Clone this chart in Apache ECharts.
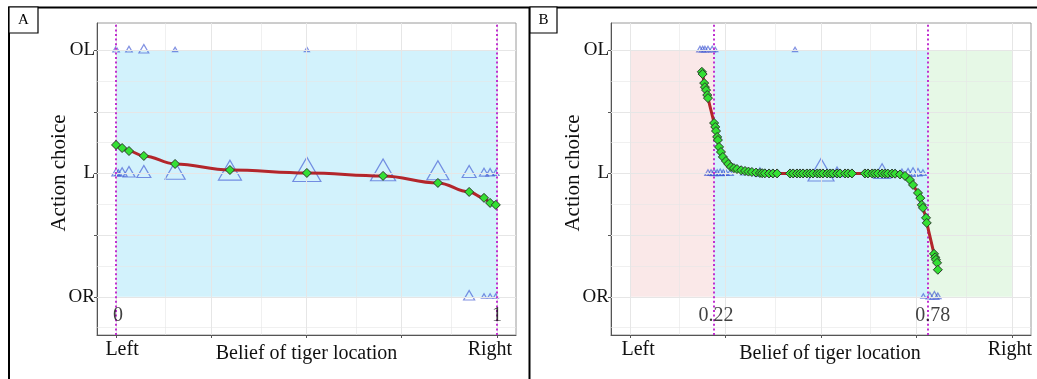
<!DOCTYPE html>
<html>
<head>
<meta charset="utf-8">
<script src="https://cdn.jsdelivr.net/npm/echarts@6/dist/echarts.min.js"></script>
<style>
  html, body { margin: 0; padding: 0; background: #fff; }
  #chart { width: 1037px; height: 379px; }
</style>
</head>
<body>
<div id="chart"></div>
<script>
var FONT = '"Liberation Serif", "Times New Roman", serif';

// ---- panel A: fitted curve (belief -> mean action) ----
var beliefA = [0, 0.016, 0.034, 0.073, 0.155, 0.299, 0.501, 0.701, 0.845, 0.927, 0.966, 0.982, 0.997];
var actionA = [1.231, 1.206, 1.182, 1.142, 1.077, 1.028, 1.004, 0.980, 0.923, 0.850, 0.802, 0.761, 0.745];

// panel A: observed choices (belief, action level, number of trials)
var obsBeliefA = [0, 0.034, 0.073, 0.155, 0.501,
    0, 0.006, 0.016, 0.034, 0.073, 0.155, 0.299, 0.501, 0.701, 0.845, 0.927, 0.966, 0.982, 0.997,
    0.927, 0.966, 0.982, 0.997];
var obsLevelA = [2, 2, 2, 2, 2,
    1, 1, 1, 1, 1, 1, 1, 1, 1, 1, 1, 1, 1, 1,
    0, 0, 0, 0];
var obsCountA = [2, 2, 6, 1, 1,
    4, 2, 6, 10, 14, 32, 43, 66, 52, 39, 14, 5, 4, 2,
    8, 1, 1, 1];

// ---- panel B ----
var beliefB = [0.188, 0.190, 0.194, 0.196, 0.199, 0.202, 0.204,
    0.220, 0.223, 0.225, 0.228, 0.230, 0.233, 0.238, 0.243, 0.251, 0.257, 0.264, 0.272, 0.280,
    0.291, 0.301, 0.310, 0.319, 0.330, 0.340, 0.346, 0.353, 0.364, 0.374, 0.385,
    0.419, 0.427, 0.437, 0.445, 0.453, 0.463, 0.471, 0.479, 0.490, 0.497, 0.505, 0.516,
    0.524, 0.531, 0.542, 0.550, 0.563, 0.571, 0.581,
    0.615, 0.623, 0.634, 0.641, 0.649, 0.660, 0.668, 0.675, 0.686,
    0.694, 0.707, 0.720, 0.733, 0.741, 0.754, 0.760, 0.764, 0.767, 0.775, 0.777,
    0.796, 0.799, 0.801, 0.804, 0.806];
var actionB = [1.824, 1.806, 1.733, 1.700, 1.676, 1.636, 1.611,
    1.409, 1.377, 1.344, 1.296, 1.271, 1.215, 1.174, 1.134, 1.101, 1.077, 1.053, 1.043, 1.036,
    1.026, 1.020, 1.015, 1.012, 1.007, 1.004, 1.002, 1.001, 1.000, 1.000, 1.000,
    1.000, 1.000, 1.000, 1.000, 1.000, 1.000, 1.000, 1.000, 1.000, 1.000, 1.000, 1.000,
    1.000, 1.000, 1.000, 1.000, 1.000, 1.000, 1.000,
    1.000, 1.000, 1.000, 1.000, 1.000, 1.000, 0.999, 0.999, 0.999,
    0.998, 0.992, 0.980, 0.947, 0.907, 0.842, 0.800, 0.745, 0.721, 0.640, 0.599,
    0.348, 0.320, 0.300, 0.275, 0.219];

var obsBeliefB = [0.183, 0.190, 0.196, 0.204, 0.215, 0.223, 0.432,
    0.204, 0.212, 0.220, 0.228, 0.236, 0.244, 0.251, 0.262, 0.296, 0.340, 0.500, 0.542, 0.660,
    0.694, 0.712, 0.728, 0.741, 0.754, 0.767,
    0.768, 0.785, 0.797, 0.806];
var obsLevelB = [2, 2, 2, 2, 2, 2, 2,
    1, 1, 1, 1, 1, 1, 1, 1, 1, 1, 1, 1, 1,
    1, 1, 1, 1, 1, 1,
    0, 0, 0, 0];
var obsCountB = [2, 2, 2, 2, 2, 1, 1,
    2, 2, 3, 2, 3, 2, 2, 2, 1, 6, 56, 8, 22,
    2, 3, 4, 6, 4, 2,
    1, 3, 5, 2];

// decision regions and thresholds
var regionsA = [[0, 1]];
var regionColorsA = ['rgba(30,190,240,0.2)'];
var regionsB = [[0, 0.22], [0.22, 0.78], [0.78, 1]];
var regionColorsB = ['rgba(230,140,140,0.2)', 'rgba(30,190,240,0.2)', 'rgba(130,220,130,0.2)'];
var thresholdsA = [0, 1];
var thresholdsB = [0.22, 0.78];
var thresholdTextA = ['0', '1'];
var thresholdTextXA = [0.005, 1.0];
var thresholdTextB = ['0.22', '0.78'];
var thresholdTextXB = [0.225, 0.793];
var thresholdTextY = -0.154;

// axis breaks
var actionLevels = [0, 1, 2];
var actionNames = ['OR', 'L', 'OL'];
var yMajor = [0, 0.5, 1, 1.5, 2];
var yMinor = [-0.25, 0.25, 0.75, 1.25, 1.75];
var xMajor = [0, 0.25, 0.5, 0.75, 1];
var xMinor = [0.125, 0.375, 0.625, 0.875];
var sideBreaks = [0, 1];
var sideNames = ['Left', 'Right'];

/**
 * Triangle item for a count (size scale ~ sqrt(n), like ggplot's area scale).
 */
function triangleItem(x, y, n) {
    var w = 2 + 3.2 * Math.sqrt(n);
    var h = w * 0.866;
    return { value: [x, y], symbolSize: [w, h], symbolOffset: [0, -h / 6] };
}

/**
 * Build all series of one panel.
 */
function panelSeries(i, p) {
    var grid = [];
    xMajor.forEach(function (v) { grid.push({ xAxis: v, lineStyle: { width: 1 } }); });
    xMinor.forEach(function (v) { grid.push({ xAxis: v, lineStyle: { width: 0.6 } }); });
    yMajor.forEach(function (v) { grid.push({ yAxis: v, lineStyle: { width: 1 } }); });
    yMinor.forEach(function (v) { grid.push({ yAxis: v, lineStyle: { width: 0.6 } }); });

    var areas = p.regions.map(function (r, k) {
        return [{ xAxis: r[0], yAxis: 0, itemStyle: { color: p.regionColors[k] } }, { xAxis: r[1], yAxis: 2 }];
    });

    var tri = p.obsX.map(function (x, k) { return triangleItem(x, p.obsY[k], p.obsN[k]); });
    var curve = p.beliefs.map(function (x, k) { return [x, p.actions[k]]; });
    var texts = p.textX.map(function (x, k) { return [x, thresholdTextY, p.text[k]]; });

    return [
        {
            type: 'scatter', xAxisIndex: i, yAxisIndex: i, data: [], z: 1, silent: true,
            markLine: { silent: true, symbol: 'none', label: { show: false }, animation: false,
                lineStyle: { color: '#e6e6e6', type: 'solid' }, data: grid }
        },
        {
            type: 'scatter', xAxisIndex: i, yAxisIndex: i, data: [], z: 2, silent: true,
            markArea: { silent: true, animation: false, data: areas }
        },
        {
            type: 'scatter', xAxisIndex: i, yAxisIndex: i, data: [], z: 3, silent: true,
            markLine: { silent: true, symbol: 'none', label: { show: false }, animation: false,
                lineStyle: { color: '#c030d0', width: 2, type: [2, 2.6] },
                data: p.thresholds.map(function (v) { return { xAxis: v }; }) }
        },
        {
            type: 'scatter', xAxisIndex: i, yAxisIndex: i, z: 4, symbol: 'triangle', data: tri,
            itemStyle: { color: 'rgba(0,0,0,0)', borderColor: 'rgba(60,85,210,0.8)', borderWidth: 1.2 }
        },
        {
            type: 'line', xAxisIndex: i, yAxisIndex: i, z: 5, data: curve,
            smooth: p.smooth, smoothMonotone: 'x',
            symbol: 'diamond', symbolSize: 9, showSymbol: true,
            lineStyle: { color: '#b3262b', width: 3 },
            itemStyle: { color: '#33e033', borderColor: '#2b3a2b', borderWidth: 1 }
        },
        {
            type: 'scatter', xAxisIndex: i, yAxisIndex: i, z: 6, symbolSize: 1, data: texts,
            itemStyle: { color: 'rgba(0,0,0,0)' },
            label: { show: true, position: 'inside', color: '#111', fontFamily: FONT, fontSize: 20,
                formatter: function (q) { return q.data[2]; } }
        }
    ];
}

function xAxisFor(i, shiftL, shiftR, namePad) {
    return {
        type: 'value', gridIndex: i, min: -0.05, max: 1.05,
        name: 'Belief of tiger location', nameLocation: 'middle', nameGap: 9, nameMoveOverlap: false,
        nameTextStyle: { color: '#111', fontFamily: FONT, fontSize: 20, padding: [0, 0, 0, namePad] },
        axisLine: { show: true, onZero: false, lineStyle: { color: '#555' } },
        axisTick: { show: true, length: 3, customValues: xMajor, lineStyle: { color: '#555' } },
        axisLabel: {
            customValues: sideBreaks, margin: 5, color: '#111', fontFamily: FONT, fontSize: 20,
            formatter: function (v) { return v === 0 ? '{l|' + sideNames[0] + '}' : '{r|' + sideNames[1] + '}'; },
            rich: {
                l: { fontFamily: FONT, fontSize: 20, color: '#111', padding: [0, 0, 0, shiftL] },
                r: { fontFamily: FONT, fontSize: 20, color: '#111', padding: [0, shiftR, 0, 0] }
            }
        },
        splitLine: { show: false }
    };
}

function yAxisFor(i) {
    return {
        type: 'value', gridIndex: i, min: -0.31, max: 2.22,
        name: 'Action choice', nameLocation: 'middle', nameRotate: 90, nameGap: 27, nameMoveOverlap: false,
        nameTextStyle: { color: '#111', fontFamily: FONT, fontSize: 21, padding: [0, 0, 0, 12] },
        axisLine: { show: true, onZero: false, lineStyle: { color: '#555' } },
        axisTick: { show: true, length: 3, customValues: yMajor, lineStyle: { color: '#555' } },
        axisLabel: {
            customValues: actionLevels, margin: 2, color: '#111', fontFamily: FONT, fontSize: 19,
            formatter: function (v) { return actionNames[actionLevels.indexOf(Math.round(v))]; }
        },
        splitLine: { show: false }
    };
}

var panelA = {
    beliefs: beliefA, actions: actionA, obsX: obsBeliefA, obsY: obsLevelA, obsN: obsCountA,
    regions: regionsA, regionColors: regionColorsA, thresholds: thresholdsA,
    text: thresholdTextA, textX: thresholdTextXA, smooth: 0.4
};
var panelB = {
    beliefs: beliefB, actions: actionB, obsX: obsBeliefB, obsY: obsLevelB, obsN: obsCountB,
    regions: regionsB, regionColors: regionColorsB, thresholds: thresholdsB,
    text: thresholdTextB, textX: thresholdTextXB, smooth: false
};

function labelBox(x, w, txt) {
    return {
        type: 'group', children: [
            { type: 'rect', shape: { x: x, y: 7, width: w, height: 26 },
              style: { fill: '#fff', stroke: '#000', lineWidth: 1.2 } },
            { type: 'text', x: x + w / 2, y: 20,
              style: { text: txt, fill: '#000', font: '15px ' + FONT, align: 'center', verticalAlign: 'middle' } }
        ]
    };
}

var chart = echarts.init(document.getElementById('chart'));
chart.setOption({
    animation: false,
    backgroundColor: '#fff',
    grid: [
        { left: 97, top: 23, width: 419, height: 312, outerBoundsMode: 'none', containLabel: false,
          show: true, borderColor: '#9a9a9a', borderWidth: 1 },
        { left: 611, top: 23, width: 420, height: 312, outerBoundsMode: 'none', containLabel: false,
          show: true, borderColor: '#9a9a9a', borderWidth: 1 }
    ],
    xAxis: [xAxisFor(0, 12, 14, 0), xAxisFor(1, 16, 4, 18)],
    yAxis: [yAxisFor(0), yAxisFor(1)],
    series: panelSeries(0, panelA).concat(panelSeries(1, panelB)),
    graphic: [
        { type: 'line', shape: { x1: 8, y1: 7.5, x2: 1037, y2: 7.5 }, style: { stroke: '#000', lineWidth: 2 } },
        { type: 'line', shape: { x1: 9, y1: 7, x2: 9, y2: 379 }, style: { stroke: '#000', lineWidth: 2 } },
        { type: 'line', shape: { x1: 529.5, y1: 7, x2: 529.5, y2: 379 }, style: { stroke: '#000', lineWidth: 2 } },
        labelBox(9, 29, 'A'),
        labelBox(530, 27, 'B')
    ]
});
</script>
</body>
</html>
